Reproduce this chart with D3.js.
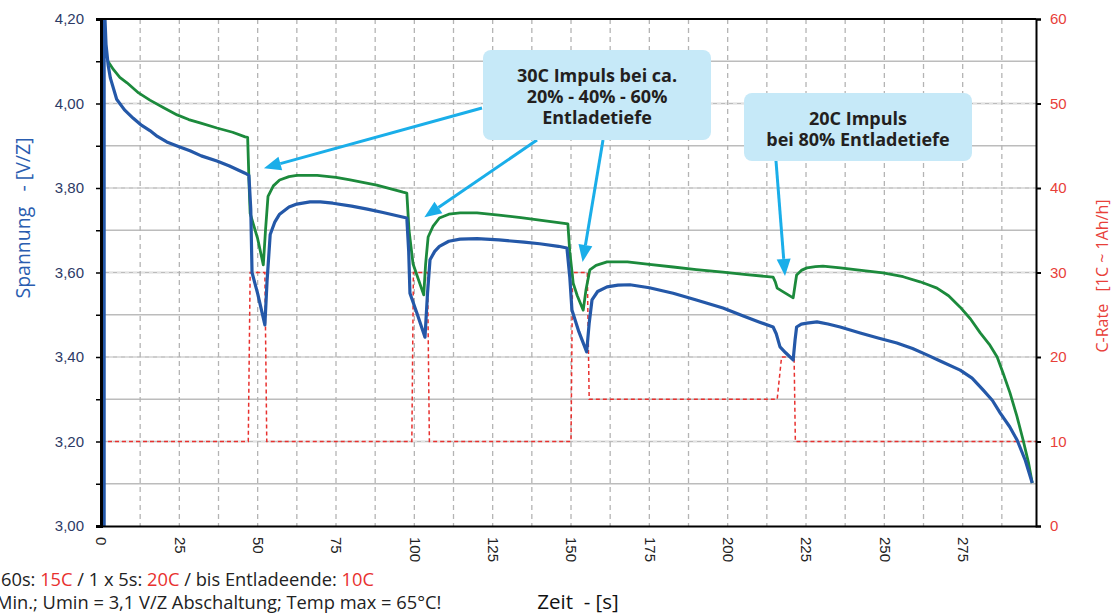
<!DOCTYPE html>
<html>
<head>
<meta charset="utf-8">
<script src="https://cdn.jsdelivr.net/npm/d3@7"></script>
<style>
  body { margin: 0; background: #fff; }
  svg { display: block; font-family: "Open Sans", Lato, "Noto Sans", sans-serif; }
</style>
</head>
<body>
<svg id="chart"></svg>
<script>
// values
const blueTime = [1.0, 1.0, 1.6, 2.3, 3, 5, 7.5, 10.3, 13, 15.6, 18, 21, 24.5, 28.4, 32, 37, 41, 46, 47.2, 47.8, 48.2, 50, 52.3, 53, 54, 55.5, 57, 60, 62.5, 66.7, 70, 74, 80, 85, 90, 97.6, 98.2, 98.6, 101, 103.4, 104.2, 105, 106.5, 108, 111, 114.6, 120, 127, 135, 140, 146, 148.7, 149.6, 150.3, 152.5, 155, 155.8, 156.7, 158.5, 161.5, 165, 168.8, 175, 182.6, 190, 198.5, 205, 210, 214.5, 215.5, 216.7, 218.5, 220.9, 221.5, 222, 223.5, 225.3, 228.5, 232, 235.9, 242.3, 248, 254, 259, 263.6, 268, 274.2, 278, 281.5, 284.5, 287, 290, 292.4, 295, 297.2]
const blueVolt = [2.98, 4.25, 4.14, 4.09, 4.06, 4.01, 3.985, 3.965, 3.948, 3.936, 3.922, 3.909, 3.899, 3.888, 3.876, 3.864, 3.852, 3.835, 3.83, 3.75, 3.60, 3.55, 3.476, 3.58, 3.69, 3.72, 3.738, 3.755, 3.762, 3.767, 3.767, 3.764, 3.757, 3.75, 3.742, 3.729, 3.65, 3.551, 3.50, 3.447, 3.55, 3.63, 3.65, 3.662, 3.674, 3.679, 3.68, 3.677, 3.672, 3.668, 3.662, 3.658, 3.59, 3.511, 3.46, 3.412, 3.48, 3.535, 3.555, 3.566, 3.57, 3.571, 3.564, 3.551, 3.535, 3.516, 3.497, 3.483, 3.471, 3.455, 3.424, 3.41, 3.393, 3.44, 3.471, 3.478, 3.48, 3.483, 3.478, 3.471, 3.457, 3.445, 3.433, 3.42, 3.405, 3.39, 3.369, 3.35, 3.322, 3.297, 3.267, 3.235, 3.203, 3.155, 3.102]

const greenTime = [2.2, 4, 6, 8.3, 12, 15.6, 20, 24.3, 28, 31.6, 37, 42, 46, 46.8, 47.3, 47.6, 50, 51.8, 52.5, 53.3, 55, 57, 60, 62.5, 69, 75, 79.5, 88, 96.4, 97.6, 98.3, 99.6, 101, 103, 103.6, 104.4, 106, 108, 111, 114.6, 120, 127, 134, 140, 149, 149.6, 150.7, 152, 153.9, 154.8, 156, 158, 161.5, 168, 175, 182.6, 190, 198.5, 206, 214.5, 215.2, 215.8, 218, 220.9, 221.5, 222, 223.5, 225.3, 228, 230.4, 236, 241.3, 249.6, 256, 261.4, 264, 266.8, 270.5, 274.2, 277.5, 280.6, 283.5, 286, 288, 290.1, 292.3, 294.3, 296, 297.2]
const greenVolt = [4.10, 4.08, 4.062, 4.049, 4.025, 4.008, 3.99, 3.973, 3.962, 3.954, 3.942, 3.932, 3.921, 3.92, 3.80, 3.74, 3.68, 3.618, 3.70, 3.78, 3.805, 3.819, 3.827, 3.83, 3.83, 3.825, 3.819, 3.807, 3.79, 3.788, 3.70, 3.62, 3.59, 3.547, 3.62, 3.684, 3.71, 3.729, 3.738, 3.741, 3.741, 3.736, 3.73, 3.724, 3.715, 3.65, 3.575, 3.545, 3.511, 3.56, 3.606, 3.617, 3.625, 3.625, 3.619, 3.613, 3.607, 3.601, 3.595, 3.589, 3.578, 3.563, 3.553, 3.54, 3.57, 3.594, 3.605, 3.611, 3.614, 3.615, 3.611, 3.606, 3.599, 3.59, 3.578, 3.571, 3.563, 3.545, 3.518, 3.49, 3.457, 3.43, 3.40, 3.36, 3.315, 3.26, 3.203, 3.15, 3.102]

const rateTime = [0, 47.0, 47.6, 52.3, 52.9, 99.2, 99.7, 104.2, 104.8, 150.0, 150.5, 155.2, 155.8, 215.8, 217.2, 221.2, 221.6, 298.4]
const rateValue = [10, 10, 30, 30, 10, 10, 30, 30, 10, 10, 30, 30, 15, 15, 20, 20, 10, 10]

const timeTicks = [0, 25, 50, 75, 100, 125, 150, 175, 200, 225, 250, 275]
const timeGrid = [12.5, 25, 37.5, 50, 62.5, 75, 87.5, 100, 112.5, 125, 137.5, 150, 162.5, 175, 187.5, 200, 212.5, 225, 237.5, 250, 262.5, 275, 287.5]
const voltTicks = [3.0, 3.1, 3.2, 3.3, 3.4, 3.5, 3.6, 3.7, 3.8, 3.9, 4.0, 4.1, 4.2]
const rateTicks = [0, 10, 20, 30, 40, 50, 60]

// callouts: text lines and the points the arrows aim at (time, volt)
const noteLines1 = ["30C Impuls bei ca.", "20% - 40% - 60%", "Entladetiefe"]
const noteLines2 = ["20C Impuls", "bei 80% Entladetiefe"]
const arrowTipTime = [52.0, 103.2, 153.7, 218.3]
const arrowTipVolt = [3.847, 3.731, 3.625, 3.592]

// constants
const width = 1112
const height = 616
const plot = { left: 101, right: 1036, top: 19, bottom: 526 }

const svg = d3.select('svg#chart').attr('width', width).attr('height', height)

const x = d3.scaleLinear().domain([0, 298.4]).range([plot.left, plot.right])
const y = d3.scaleLinear().domain([3.0, 4.2]).range([plot.bottom, plot.top])
const yRate = d3.scaleLinear().domain([0, 60]).range([plot.bottom, plot.top])

svg.append('defs').append('clipPath').attr('id', 'clip')
  .append('rect')
  .attr('x', plot.left).attr('y', plot.top)
  .attr('width', plot.right - plot.left).attr('height', plot.bottom - plot.top)

// grid
const grid = svg.append('g')
grid.selectAll('line.h').data(voltTicks.slice(1, -1)).enter().append('line')
  .attr('x1', plot.left).attr('x2', plot.right)
  .attr('y1', d => y(d)).attr('y2', d => y(d))
  .attr('stroke', '#bcbcbc').attr('stroke-width', 1.6)
grid.selectAll('line.hd').data(rateTicks.slice(1, -1)).enter().append('line')
  .attr('x1', plot.left).attr('x2', plot.right)
  .attr('y1', d => yRate(d)).attr('y2', d => yRate(d))
  .attr('stroke', '#e2e2e2').attr('stroke-width', 1.6).attr('stroke-dasharray', '4,4')
grid.selectAll('line.v').data(timeGrid).enter().append('line')
  .attr('x1', d => x(d)).attr('x2', d => x(d))
  .attr('y1', plot.top).attr('y2', plot.bottom)
  .attr('stroke', '#b4b4b4').attr('stroke-width', 1.3).attr('stroke-dasharray', '5,4')

// lines
const lines = svg.append('g').attr('clip-path', 'url(#clip)')
const rateLine = d3.line().x((d, i) => x(rateTime[i])).y(d => yRate(d))
const blueLine = d3.line().x((d, i) => x(blueTime[i])).y(d => y(d))
const greenLine = d3.line().x((d, i) => x(greenTime[i])).y(d => y(d))

lines.append('path').attr('d', rateLine(rateValue))
  .attr('fill', 'none').attr('stroke', '#e8312f').attr('stroke-width', 1.5).attr('stroke-dasharray', '4,3')
lines.append('path').attr('d', greenLine(greenVolt))
  .attr('fill', 'none').attr('stroke', '#1c8a3c').attr('stroke-width', 2.8).attr('stroke-linejoin', 'round')
lines.append('path').attr('d', blueLine(blueVolt))
  .attr('fill', 'none').attr('stroke', '#2458a8').attr('stroke-width', 3.2).attr('stroke-linejoin', 'round')

// axes
const comma = d => d3.format('.2f')(d).replace('.', ',')
const leftAxis = svg.append('g').attr('transform', 'translate(' + plot.left + ',0)')
  .call(d3.axisLeft(y).tickValues(voltTicks).tickSize(5).tickPadding(12)
    .tickFormat(d => Math.round(d * 10) % 2 === 0 ? comma(d) : ''))
leftAxis.select('.domain').attr('stroke', '#000').attr('stroke-width', 3)
leftAxis.selectAll('.tick line').attr('stroke', '#000').attr('stroke-width', 1.5)
leftAxis.selectAll('text').attr('fill', '#2d3a66')
  .style('font-family', '"Liberation Sans", Arial, sans-serif').style('font-size', '15px')

const rightAxis = svg.append('g').attr('transform', 'translate(' + plot.right + ',0)')
  .call(d3.axisRight(yRate).tickValues(rateTicks).tickSize(5).tickPadding(9))
rightAxis.select('.domain').attr('stroke', '#000').attr('stroke-width', 2)
rightAxis.selectAll('.tick line').attr('stroke', '#000').attr('stroke-width', 2)
rightAxis.selectAll('text').attr('fill', '#e8403a')
  .style('font-family', '"Liberation Sans", Arial, sans-serif').style('font-size', '15px')

const bottomAxis = svg.append('g').attr('transform', 'translate(0,' + plot.bottom + ')')
  .call(d3.axisBottom(x).tickValues(timeTicks).tickSize(0).tickSizeOuter(0))
bottomAxis.select('.domain').attr('stroke', '#000').attr('stroke-width', 2)
bottomAxis.selectAll('text')
  .attr('transform', 'rotate(90)').attr('x', 11).attr('y', 0).attr('dy', '0.35em')
  .style('text-anchor', 'start').attr('fill', '#222')
  .style('font-family', '"Liberation Sans", Arial, sans-serif').style('font-size', '15px')

svg.append('line').attr('x1', plot.left).attr('x2', plot.right)
  .attr('y1', plot.top).attr('y2', plot.top).attr('stroke', '#000').attr('stroke-width', 2)

// axis titles
svg.append('text').attr('transform', 'translate(30,218) rotate(-90)')
  .attr('text-anchor', 'middle').style('white-space', 'pre')
  .attr('fill', '#2a5db0').style('font-size', '19.5px')
  .text('Spannung   - [V/Z]')
svg.append('text').attr('transform', 'translate(1108,276) rotate(-90)')
  .attr('text-anchor', 'middle').style('white-space', 'pre')
  .attr('fill', '#e8403a').style('font-size', '16px')
  .text('C-Rate   [1C ~ 1Ah/h]')
svg.append('text').attr('x', 578).attr('y', 609)
  .attr('text-anchor', 'middle').style('white-space', 'pre')
  .attr('fill', '#111').style('font-size', '20.5px')
  .text('Zeit  - [s]')

// notes under the chart
const note1 = svg.append('text').attr('x', 1).attr('y', 586).attr('fill', '#222').style('font-size', '18.3px')
note1.append('tspan').text('60s: ')
note1.append('tspan').attr('fill', '#e8312f').text('15C')
note1.append('tspan').text(' / 1 x 5s: ')
note1.append('tspan').attr('fill', '#e8312f').text('20C')
note1.append('tspan').text(' / bis Entladeende: ')
note1.append('tspan').attr('fill', '#e8312f').text('10C')
svg.append('text').attr('x', -4).attr('y', 609).attr('fill', '#222').style('font-size', '18.3px')
  .text('Min.; Umin = 3,1 V/Z Abschaltung; Temp max = 65°C!')

// callouts
const arrowColor = '#1aaee9'
const arrowStart = [[482, 108], [537, 140], [603, 140], [776, 161]]
const arrows = svg.append('g')
arrowTipTime.forEach((t, i) => {
  const tx = x(t), ty = y(arrowTipVolt[i])
  const sx = arrowStart[i][0], sy = arrowStart[i][1]
  const len = Math.hypot(tx - sx, ty - sy)
  const ux = (tx - sx) / len, uy = (ty - sy) / len
  const hl = 17, hw = 7
  const bx = tx - ux * hl, by = ty - uy * hl
  arrows.append('line').attr('x1', sx).attr('y1', sy).attr('x2', bx).attr('y2', by)
    .attr('stroke', arrowColor).attr('stroke-width', 3)
  arrows.append('path')
    .attr('d', 'M' + tx + ',' + ty + 'L' + (bx - uy * hw) + ',' + (by + ux * hw) + 'L' + (bx + uy * hw) + ',' + (by - ux * hw) + 'Z')
    .attr('fill', arrowColor)
})

const box1 = svg.append('g')
box1.append('rect').attr('x', 483).attr('y', 50).attr('width', 228).attr('height', 90).attr('rx', 8)
  .attr('fill', '#c6e9f8')
box1.selectAll('text').data(noteLines1).enter().append('text')
  .attr('x', 597).attr('y', (d, i) => 82 + i * 21)
  .attr('text-anchor', 'middle').attr('fill', '#231f20')
  .style('font-size', '18px').style('font-weight', 'bold')
  .text(d => d)

const box2 = svg.append('g')
box2.append('rect').attr('x', 744).attr('y', 93).attr('width', 228).attr('height', 68).attr('rx', 8)
  .attr('fill', '#c6e9f8')
box2.selectAll('text').data(noteLines2).enter().append('text')
  .attr('x', 858).attr('y', (d, i) => 125 + i * 20.5)
  .attr('text-anchor', 'middle').attr('fill', '#231f20')
  .style('font-size', '18px').style('font-weight', 'bold')
  .text(d => d)
</script>
</body>
</html>
